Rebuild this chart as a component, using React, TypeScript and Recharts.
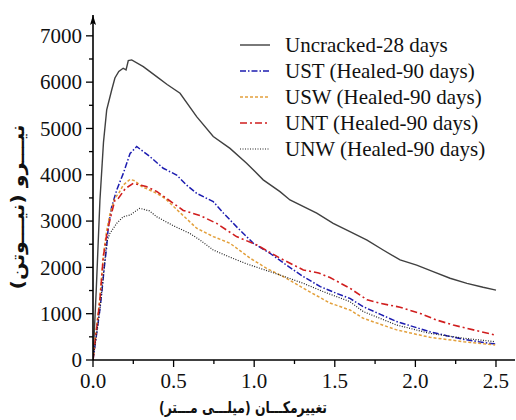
import React from "react";
import { Line, LineChart, XAxis, YAxis } from "recharts";

// Uncracked-28 days
const ucX = [0, 0.02, 0.043, 0.065, 0.085, 0.116, 0.136, 0.16, 0.187, 0.205, 0.219, 0.24, 0.312, 0.395, 0.46, 0.54, 0.643, 0.746, 0.85, 0.953, 1.056, 1.16, 1.222, 1.388, 1.49, 1.594, 1.7, 1.8, 1.905, 2.008, 2.11, 2.215, 2.32, 2.42, 2.5];
const ucY = [0, 1500, 3450, 4700, 5400, 5830, 6090, 6230, 6300, 6265, 6465, 6480, 6335, 6120, 5950, 5760, 5255, 4825, 4570, 4250, 3890, 3635, 3456, 3170, 2950, 2770, 2590, 2375, 2160, 2050, 1910, 1765, 1655, 1570, 1510];

// UST (Healed-90 days)
const ustX = [0, 0.023, 0.043, 0.054, 0.07, 0.085, 0.095, 0.116, 0.147, 0.188, 0.23, 0.271, 0.354, 0.436, 0.519, 0.58, 0.643, 0.746, 0.81, 0.89, 0.995, 1.098, 1.2, 1.305, 1.41, 1.51, 1.594, 1.677, 1.78, 1.884, 2.09, 2.2, 2.3, 2.4, 2.495];
const ustY = [0, 580, 1100, 1440, 2000, 2450, 2880, 3310, 3670, 4030, 4460, 4610, 4390, 4140, 3995, 3780, 3600, 3420, 3170, 2880, 2520, 2305, 2050, 1800, 1585, 1440, 1330, 1150, 990, 830, 610, 520, 445, 390, 345];

// USW (Healed-90 days)
const uswX = [0, 0.02, 0.043, 0.064, 0.085, 0.105, 0.136, 0.16, 0.188, 0.23, 0.26, 0.3, 0.395, 0.45, 0.55, 0.643, 0.746, 0.85, 0.974, 1.077, 1.2, 1.325, 1.47, 1.594, 1.677, 1.884, 2.09, 2.3, 2.495];
const uswY = [0, 650, 1350, 2250, 2800, 3150, 3500, 3600, 3780, 3900, 3870, 3750, 3600, 3480, 3150, 2845, 2665, 2520, 2200, 1980, 1765, 1510, 1230, 1080, 900, 650, 490, 395, 325];

// UNT (Healed-90 days)
const untX = [0, 0.02, 0.043, 0.064, 0.085, 0.105, 0.136, 0.157, 0.2, 0.25, 0.29, 0.33, 0.395, 0.498, 0.56, 0.664, 0.767, 0.89, 1.016, 1.16, 1.305, 1.4, 1.47, 1.594, 1.7, 1.78, 1.905, 2.03, 2.13, 2.235, 2.36, 2.495];
const untY = [0, 600, 1300, 2230, 2700, 3025, 3456, 3490, 3700, 3815, 3780, 3745, 3640, 3385, 3230, 3120, 2950, 2665, 2485, 2200, 1945, 1880, 1780, 1550, 1300, 1225, 1140, 1005, 865, 755, 650, 540];

// UNW (Healed-90 days)
const unwX = [0, 0.02, 0.043, 0.064, 0.085, 0.105, 0.147, 0.188, 0.23, 0.29, 0.35, 0.395, 0.498, 0.6, 0.664, 0.746, 0.85, 0.95, 1.036, 1.16, 1.305, 1.43, 1.594, 1.677, 1.884, 2.09, 2.3, 2.495];
const unwY = [0, 500, 1100, 1800, 2550, 2735, 2950, 3095, 3130, 3275, 3220, 3095, 2900, 2735, 2590, 2375, 2220, 2080, 1980, 1835, 1655, 1475, 1260, 1045, 755, 575, 470, 395];

const xTicks = [0, 0.25, 0.5, 0.75, 1, 1.25, 1.5, 1.75, 2, 2.25, 2.5];
const yTicks = [0, 500, 1000, 1500, 2000, 2500, 3000, 3500, 4000, 4500, 5000, 5500, 6000, 6500, 7000];

const toPoints = (xs: number[], ys: number[]) => xs.map((x, i) => ({ x, y: ys[i] }));

const series = [
  { name: "Uncracked-28 days", data: toPoints(ucX, ucY), color: "#404040", dash: undefined, width: 1.4 },
  { name: "UST (Healed-90 days)", data: toPoints(ustX, ustY), color: "#1c1cb0", dash: "6 2 1.5 2", width: 1.5 },
  { name: "USW (Healed-90 days)", data: toPoints(uswX, uswY), color: "#e3a03c", dash: "3 2", width: 1.5 },
  { name: "UNT (Healed-90 days)", data: toPoints(untX, untY), color: "#d01e1e", dash: "7 3 2 3", width: 1.6 },
  { name: "UNW (Healed-90 days)", data: toPoints(unwX, unwY), color: "#222", dash: "1 1.5", width: 1.2 },
];

const serif = "Liberation Serif, Tinos, DejaVu Serif, serif";
const persian = "DejaVu Sans, sans-serif";

function YTick(props: any) {
  const { x, y, payload } = props;
  const major = payload.value % 1000 === 0;
  return (
    <g>
      <line x1={x} x2={x - (major ? 7 : 4)} y1={y} y2={y} stroke="#000" strokeWidth={1.3} />
      {major && (
        <text x={x - 11} y={y} dy="0.35em" textAnchor="end" style={{ fontFamily: serif }} fontSize={21} fill="#111">
          {payload.value}
        </text>
      )}
    </g>
  );
}

function XTick(props: any) {
  const { x, y, payload } = props;
  const v = payload.value as number;
  const major = Math.abs(v * 2 - Math.round(v * 2)) < 1e-6;
  return (
    <g>
      <line x1={x} x2={x} y1={y} y2={y + (major ? 7 : 4)} stroke="#000" strokeWidth={1.3} />
      {major && (
        <text x={x} y={y + 13} dy="0.71em" textAnchor="middle" style={{ fontFamily: serif }} fontSize={21} fill="#111">
          {v.toFixed(1)}
        </text>
      )}
    </g>
  );
}

function LegendBox() {
  return (
    <div style={{ position: "absolute", left: 240, top: 32, fontFamily: serif, fontSize: 21, color: "#111", lineHeight: "26px" }}>
      {series.map((s) => (
        <div key={s.name} style={{ display: "flex", alignItems: "center", height: 26 }}>
          <svg width={30} height={10} style={{ flex: "none" }}>
            <line x1={0} x2={30} y1={5} y2={5} stroke={s.color} strokeWidth={s.width} strokeDasharray={s.dash} />
          </svg>
          <span style={{ whiteSpace: "nowrap", marginLeft: 15 }}>{s.name}</span>
        </div>
      ))}
    </div>
  );
}

export default function App() {
  return (
    <div style={{ position: "absolute", left: 0, top: 0, width: 516, height: 420, background: "#fff" }}>
      <svg width={0} height={0} style={{ position: "absolute" }}>
        <defs>
          <marker id="axisArrow" viewBox="0 0 10 6" refX={10} refY={3} markerWidth={10} markerHeight={6} orient="auto-start-reverse" markerUnits="userSpaceOnUse">
            <path d="M0,0 L10,3 L0,6 L2,3 z" fill="#000" />
          </marker>
        </defs>
      </svg>
      <LineChart width={516} height={420} margin={{ top: 15, right: 1, bottom: 0, left: 0 }}>
        <XAxis
          type="number"
          dataKey="x"
          domain={[0, 2.618]}
          ticks={xTicks}
          interval={0}
          height={60}
          tickSize={0}
          tickMargin={0}
          tickLine={false}
          tick={<XTick />}
          axisLine={{ stroke: "#000", strokeWidth: 1.6 }}
          allowDataOverflow
          label={{
            content: () => (
              <text x={243} y={413} textAnchor="middle" textLength={168} lengthAdjust="spacingAndGlyphs" style={{ fontFamily: persian }} fontWeight="bold" fontSize={16} fill="#111">
                تغییرمکـــان (میلـــی مـــتر)
              </text>
            ),
          }}
        />
        <YAxis
          type="number"
          dataKey="y"
          domain={[0, 7450]}
          ticks={yTicks}
          interval={0}
          width={93}
          tickSize={0}
          tickMargin={0}
          tickLine={false}
          tick={<YTick />}
          axisLine={{ stroke: "#000", strokeWidth: 1.6, markerStart: "url(#axisArrow)" }}
          allowDataOverflow
          label={{
            content: () => (
              <text x={24} y={207} transform="rotate(-90 24 207)" textAnchor="middle" textLength={165} lengthAdjust="spacingAndGlyphs" style={{ fontFamily: persian }} fontWeight="bold" fontSize={18} fill="#111">
                نیـــرو (نیـــوتن)
              </text>
            ),
          }}
        />
        {series.map((s) => (
          <Line
            key={s.name}
            data={s.data}
            dataKey="y"
            name={s.name}
            type="linear"
            stroke={s.color}
            strokeWidth={s.width}
            strokeDasharray={s.dash}
            dot={false}
            activeDot={false}
            isAnimationActive={false}
          />
        ))}
      </LineChart>
      <LegendBox />
    </div>
  );
}
